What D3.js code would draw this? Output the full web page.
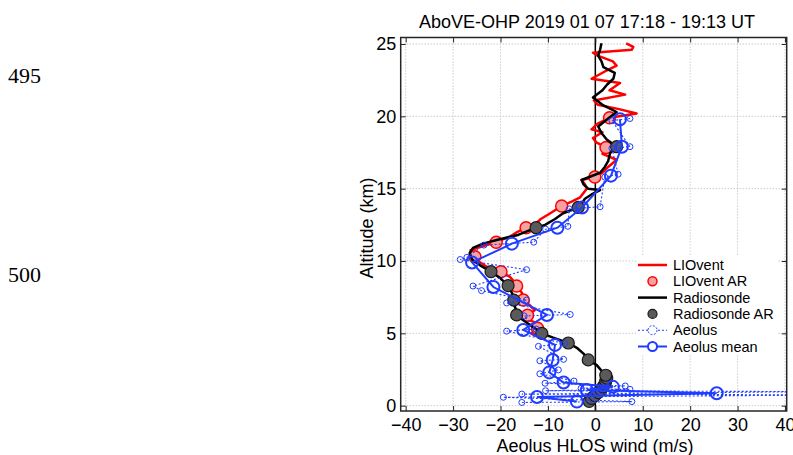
<!DOCTYPE html>
<html>
<head>
<meta charset="utf-8">
<script src="https://cdn.jsdelivr.net/npm/d3@7/dist/d3.min.js"></script>
<style>
  html, body { margin: 0; padding: 0; background: #fff; }
  svg { display: block; }
</style>
</head>
<body>
<svg id="chart" width="793" height="455"></svg>
<script>
// ---- Data: wind profiles (altitude km, HLOS wind m/s) ----
const title = "AboVE-OHP 2019 01 07 17:18 - 19:13 UT";
const xTicks = [-40, -30, -20, -10, 0, 10, 20, 30, 40];
const yTicks = [0, 5, 10, 15, 20, 25];

// LIOvent lidar profile
const lioventAlt = [4.8, 5.0, 5.35, 5.7, 6.0, 6.25, 6.6, 6.9, 7.3, 7.8, 8.27, 8.6, 8.9, 9.26, 9.6, 9.95, 10.3, 10.75, 11.0, 11.3, 11.5, 11.7, 12.0, 12.3, 12.6, 12.9, 13.3, 13.8, 14.1, 14.4, 15.0, 15.3, 15.6, 15.8, 16.1, 16.5, 17.0, 17.4, 17.85, 18.2, 18.5, 18.9, 19.1, 19.5, 19.9, 20.2, 20.5, 20.8, 21.1, 21.5, 21.8, 22.3, 22.6, 23.1, 23.5, 23.8, 24.2, 24.4, 24.6, 24.8, 25.05];
const lioventWind = [-12.5, -13.5, -12.2, -12.2, -14.8, -14.3, -12.8, -13.7, -15.2, -15.5, -16.6, -17.2, -18, -19.9, -22.9, -24.5, -25.4, -26.3, -24, -20.9, -19.5, -17.9, -16.5, -14.6, -12.5, -11.5, -9.5, -7.1, -5, -3.2, -1.8, -2.2, -2.9, -0.1, 1.5, 2.7, 4.5, 1.5, 2.25, 0.2, -0.5, 1.5, -0.8, 0.5, 3.0, 8.7, 5, 0.5, -0.3, 6.3, 3, 5.2, -0.8, 2, 4.5, 3.7, 0.5, -0.5, 7.7, 8, 6.5];

// LIOvent AR
const lioventArAlt = [5.35, 6.25, 7.3, 8.27, 9.26, 10.3, 11.3, 12.3, 13.8, 15.8, 17.85, 19.9];
const lioventArWind = [-12.2, -14.3, -15.2, -16.6, -19.9, -25.4, -20.9, -14.6, -7.1, -0.1, 2.25, 3.0];

// Radiosonde profile
const sondeAlt = [0.25, 0.5, 0.8, 1.1, 1.5, 1.9, 2.3, 2.8, 3.16, 3.6, 4.0, 4.33, 4.7, 5.0, 5.4, 5.9, 6.27, 6.7, 7.1, 7.5, 7.8, 8.3, 8.8, 9.26, 9.7, 10.1, 10.55, 10.9, 11.2, 11.45, 11.8, 12.3, 12.5, 12.9, 13.3, 13.7, 14.0, 14.3, 14.6, 14.9, 15.0, 15.3, 15.6, 16.1, 16.5, 16.9, 17.45, 17.9, 18.4, 18.85, 19.3, 19.8, 20.3, 20.8, 21.3, 21.8, 22.2, 22.6, 23.0, 23.4, 23.8, 24.2, 24.6, 25.05];
const sondeWind = [-1.5, -0.8, 0.3, 1.2, 2.0, 2.4, 1.6, 0.3, -1.5, -2.5, -3.9, -5.7, -8.9, -11.3, -13, -15.2, -16.6, -16.8, -17.3, -17.2, -17.6, -18.4, -20, -22, -24.3, -26, -26.5, -25.8, -23.7, -20.8, -16.3, -12.5, -10.6, -8.5, -6.8, -3.6, -2.8, -2.2, -0.8, 1.0, -1.5, -2.5, -2.9, 1.0, 2.0, 2.7, 3.1, 4.5, 2.4, 1.3, 0.6, 2.5, 4.5, 1.5, -0.5, 1.5, 2.5, 3.8, 4.1, 1.7, 1.3, 0.6, 1.0, 1.3];

// Radiosonde AR
const sondeArAlt = [0.3, 0.5, 0.7, 0.9, 1.1, 1.3, 1.5, 1.7, 1.9, 2.1, 3.16, 4.33, 5.0, 6.27, 7.3, 8.3, 9.26, 12.3, 13.7, 17.9];
const sondeArWind = [-1.3, -0.8, -0.1, 0.6, 1.2, 1.6, 2.0, 2.2, 2.4, 2.2, -1.5, -5.7, -11.3, -16.6, -17.2, -18.4, -22, -12.5, -3.6, 4.5];

// Aeolus individual retrievals
const aeolusAlt = [0.22, 0.28, 0.58, 0.74, 0.8, 0.97, 1.03, 1.13, 1.2, 1.36, 1.55, 1.7, 2.2, 2.47, 3.1, 3.2, 4.1, 4.3, 5.15, 5.3, 6.2, 6.3, 7.1, 7.3, 7.95, 8.27, 9.4, 10.1, 10.25, 11.1, 11.3, 12.2, 12.4, 13.6, 13.75, 15.8, 16.0, 17.8, 17.9, 19.7, 19.85];
const aeolusWind = [-15.5, 7.7, -19.4, 52, -15.5, 47, -10.5, 7.3, -3.0, 6.3, -10.6, -4.5, -11.7, -7.8, -11.7, -6.7, -12, -6.5, -18.7, -12.5, -15, -5.3, -18.7, -14.5, -24, -25.8, -14.5, -28.5, -27.1, -23.5, -13, -10.5, -5.8, -5.5, 1.0, 2.0, 4.8, 3.5, 7.3, 3.5, 7.3];

// Aeolus mean
const meanAlt = [0.28, 0.6, 0.86, 1.08, 1.3, 1.6, 2.3, 3.16, 4.2, 5.23, 6.27, 8.2, 9.9, 11.2, 12.3, 13.7, 15.9, 17.9, 19.8];
const meanWind = [-3.9, -12.3, 25.6, -1.8, 3.7, -6.7, -9.7, -9.0, -8.5, -15.2, -10.2, -21.5, -26.0, -17.6, -8.0, -2.8, 3.3, 5.6, 5.2];

const legendLabels = ["LIOvent", "LIOvent AR", "Radiosonde", "Radiosonde AR", "Aeolus", "Aeolus mean"];

// ---- Layout ----
const RED = "#ff0000", PINK = "#f7a1a1", BLUE = "#1f3cff", GRAY = "#5a5a5a";
const FONT = "'Liberation Sans', Arial, sans-serif";
const plot = { left: 400.7, right: 786.7, top: 37.5, bottom: 411 };

const svg = d3.select("#chart");
const x = d3.scaleLinear().domain([-41.05, 40.36]).range([plot.left, plot.right]);
const y = d3.scaleLinear().domain([-0.37, 25.45]).range([plot.bottom, plot.top]);

const zip = (a, w) => a.map((h, i) => ({ h, v: w[i] }));
const line = d3.line().x(d => x(d.v)).y(d => y(d.h));

// page line numbers on the left margin
svg.append("text").attr("x", 8).attr("y", 83).text("495")
  .style("font-family", "'Liberation Serif', 'Times New Roman', serif").style("font-size", "22px");
svg.append("text").attr("x", 8).attr("y", 281.5).text("500")
  .style("font-family", "'Liberation Serif', 'Times New Roman', serif").style("font-size", "22px");

svg.append("defs").append("clipPath").attr("id", "clip")
  .append("rect").attr("x", plot.left).attr("y", plot.top)
  .attr("width", plot.right - plot.left).attr("height", plot.bottom - plot.top);

// grid
const grid = svg.append("g").attr("stroke", "#b4b4b4").attr("stroke-width", 1).attr("stroke-dasharray", "1,2");
grid.selectAll(".gx").data(xTicks).join("line")
  .attr("x1", d => x(d)).attr("x2", d => x(d)).attr("y1", plot.top).attr("y2", plot.bottom);
grid.selectAll(".gy").data(yTicks).join("line")
  .attr("y1", d => y(d)).attr("y2", d => y(d)).attr("x1", plot.left).attr("x2", plot.right);

const g = svg.append("g").attr("clip-path", "url(#clip)");

// zero wind line
g.append("line").attr("x1", x(0)).attr("x2", x(0)).attr("y1", plot.top).attr("y2", plot.bottom)
  .attr("stroke", "#000").attr("stroke-width", 1.5);

// LIOvent
g.append("path").datum(zip(lioventAlt, lioventWind)).attr("d", line)
  .attr("fill", "none").attr("stroke", RED).attr("stroke-width", 2.5).attr("stroke-linejoin", "round");
g.selectAll(".lar").data(zip(lioventArAlt, lioventArWind)).join("circle")
  .attr("cx", d => x(d.v)).attr("cy", d => y(d.h)).attr("r", 6)
  .attr("fill", PINK).attr("stroke", RED).attr("stroke-width", 1.5);

// Radiosonde
g.append("path").datum(zip(sondeAlt, sondeWind)).attr("d", line)
  .attr("fill", "none").attr("stroke", "#000").attr("stroke-width", 2.5).attr("stroke-linejoin", "round");
g.selectAll(".sar").data(zip(sondeArAlt, sondeArWind)).join("circle")
  .attr("cx", d => x(d.v)).attr("cy", d => y(d.h)).attr("r", 6)
  .attr("fill", GRAY).attr("stroke", "#1a1a1a").attr("stroke-width", 1.2);

// Aeolus individual
g.append("path").datum(zip(aeolusAlt, aeolusWind)).attr("d", line)
  .attr("fill", "none").attr("stroke", BLUE).attr("stroke-width", 1.1).attr("stroke-dasharray", "2,2");
g.selectAll(".ae").data(zip(aeolusAlt, aeolusWind)).join("circle")
  .attr("cx", d => x(d.v)).attr("cy", d => y(d.h)).attr("r", 3)
  .attr("fill", "none").attr("stroke", BLUE).attr("stroke-width", 1);

// Aeolus mean
g.append("path").datum(zip(meanAlt, meanWind)).attr("d", line)
  .attr("fill", "none").attr("stroke", BLUE).attr("stroke-width", 2);
g.selectAll(".am").data(zip(meanAlt, meanWind)).join("circle")
  .attr("cx", d => x(d.v)).attr("cy", d => y(d.h)).attr("r", 6)
  .attr("fill", "none").attr("stroke", BLUE).attr("stroke-width", 2);

// axes with inward ticks on all four sides
const axisStyle = sel => {
  sel.select(".domain").remove();
  sel.selectAll(".tick line").attr("stroke", "#262626");
  sel.selectAll(".tick text").style("font-family", FONT).style("font-size", "18px").attr("fill", "#000");
};
svg.append("g").attr("transform", `translate(0,${plot.bottom})`)
  .call(d3.axisBottom(x).tickValues(xTicks).tickSizeInner(-5).tickSizeOuter(0).tickPadding(7).tickFormat(d3.format("d")))
  .call(axisStyle);
svg.append("g").attr("transform", `translate(0,${plot.top})`)
  .call(d3.axisTop(x).tickValues(xTicks).tickSizeInner(-5).tickSizeOuter(0).tickFormat(""))
  .call(axisStyle);
svg.append("g").attr("transform", `translate(${plot.left},0)`)
  .call(d3.axisLeft(y).tickValues(yTicks).tickSizeInner(-5).tickSizeOuter(0).tickPadding(4.5).tickFormat(d3.format("d")))
  .call(axisStyle);
svg.append("g").attr("transform", `translate(${plot.right},0)`)
  .call(d3.axisRight(y).tickValues(yTicks).tickSizeInner(-5).tickSizeOuter(0).tickFormat(""))
  .call(axisStyle);

// frame
svg.append("rect").attr("x", plot.left).attr("y", plot.top)
  .attr("width", plot.right - plot.left).attr("height", plot.bottom - plot.top)
  .attr("fill", "none").attr("stroke", "#262626").attr("stroke-width", 1.5);

// titles
svg.append("text").attr("x", 587).attr("y", 28).attr("text-anchor", "middle").text(title)
  .style("font-family", FONT).style("font-size", "18px");
svg.append("text").attr("x", 595).attr("y", 452).attr("text-anchor", "middle").text("Aeolus HLOS wind (m/s)")
  .style("font-family", FONT).style("font-size", "18px");
svg.append("text").attr("transform", "translate(373,228) rotate(-90)").attr("text-anchor", "middle")
  .text("Altitude (km)").style("font-family", FONT).style("font-size", "18px");

// legend
const lg = svg.append("g");
lg.append("rect").attr("x", 636).attr("y", 255).attr("width", 141).attr("height", 100).attr("fill", "#fff");
const rowY = i => 265 + i * 16.3;
const lx1 = 638, lx2 = 667, lmx = 652.5;
lg.append("line").attr("x1", lx1).attr("x2", lx2).attr("y1", rowY(0)).attr("y2", rowY(0)).attr("stroke", RED).attr("stroke-width", 2.5);
lg.append("circle").attr("cx", lmx).attr("cy", rowY(1)).attr("r", 4.5).attr("fill", PINK).attr("stroke", RED).attr("stroke-width", 1.5);
lg.append("line").attr("x1", lx1).attr("x2", lx2).attr("y1", rowY(2)).attr("y2", rowY(2)).attr("stroke", "#000").attr("stroke-width", 2.5);
lg.append("circle").attr("cx", lmx).attr("cy", rowY(3)).attr("r", 4.5).attr("fill", GRAY).attr("stroke", "#1a1a1a").attr("stroke-width", 1.2);
lg.append("line").attr("x1", lx1).attr("x2", lx2).attr("y1", rowY(4)).attr("y2", rowY(4)).attr("stroke", BLUE).attr("stroke-width", 1.1).attr("stroke-dasharray", "2,2");
lg.append("circle").attr("cx", lmx).attr("cy", rowY(4)).attr("r", 4.5).attr("fill", "#fff").attr("stroke", BLUE).attr("stroke-width", 1).attr("stroke-dasharray", "2,1.5");
lg.append("line").attr("x1", lx1).attr("x2", lx2).attr("y1", rowY(5)).attr("y2", rowY(5)).attr("stroke", BLUE).attr("stroke-width", 2);
lg.append("circle").attr("cx", lmx).attr("cy", rowY(5)).attr("r", 4.5).attr("fill", "#fff").attr("stroke", BLUE).attr("stroke-width", 2);
lg.selectAll(".lt").data(legendLabels).join("text")
  .attr("x", 673).attr("y", (d, i) => rowY(i) + 5).text(d => d)
  .style("font-family", FONT).style("font-size", "14.5px").attr("fill", "#000");
</script>
</body>
</html>
